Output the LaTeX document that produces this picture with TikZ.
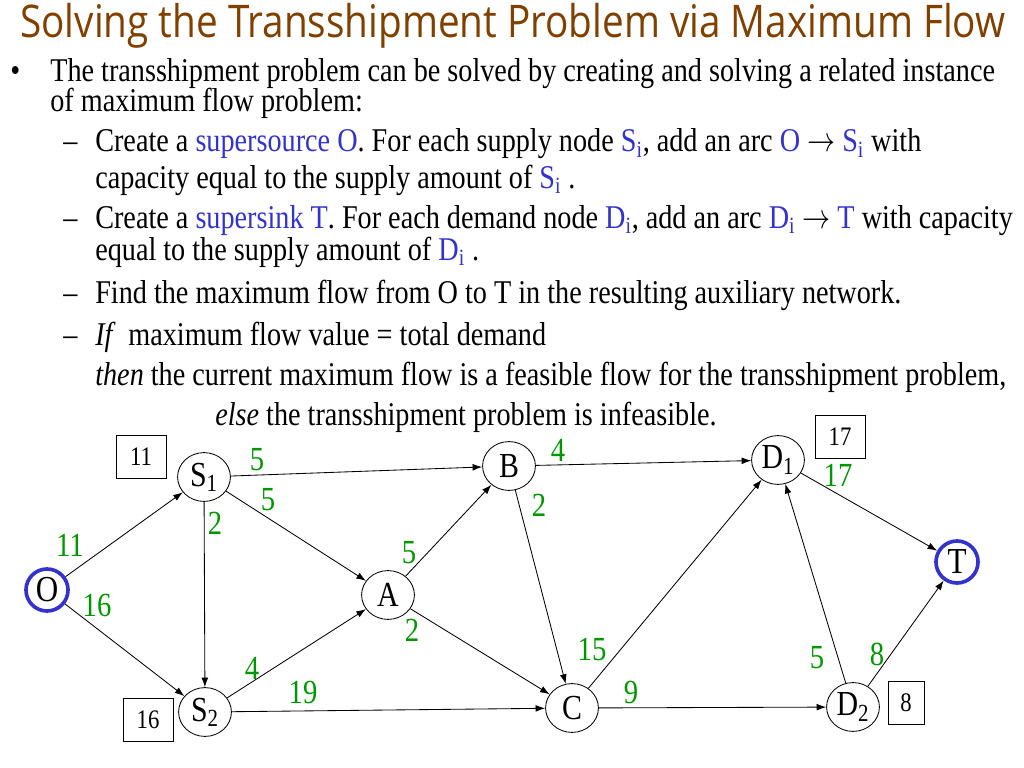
\documentclass[tikz,border=0pt]{standalone}
\usepackage{fontspec}
\setmainfont{Liberation Serif}[FakeStretch=0.85]
\newfontfamily\titlefont{Open Sans}[FakeStretch=0.86]
\usepackage{xcolor}
\usetikzlibrary{arrows.meta, shapes.geometric}
\definecolor{titlebrown}{RGB}{128,64,0}
\definecolor{hiblue}{RGB}{51,51,204}
\definecolor{flowgreen}{RGB}{0,150,0}
\newcommand{\hb}[1]{\textcolor{hiblue}{#1}}
\newcommand{\arcto}{\scalebox{0.8}[1]{$\rightarrow$}}
\tikzset{
  vertex/.style={ellipse, draw, line width=0.6pt, minimum width=1.32cm, minimum height=1.22cm, inner sep=0pt, font=\fontsize{25}{25}\selectfont},
  endvertex/.style={circle, draw=hiblue, line width=2.6pt, minimum size=1.05cm, inner sep=0pt, font=\fontsize{26}{26}\selectfont},
  capbox/.style={rectangle, draw, line width=0.6pt, minimum width=1.25cm, minimum height=1.07cm, inner sep=0pt, font=\fontsize{19}{19}\selectfont},
  flow/.style={text=flowgreen, inner sep=0pt, font=\fontsize{24}{24}\selectfont},
  txt/.style={anchor=base west, inner sep=0pt, font=\fontsize{23.6}{28}\selectfont},
  arc/.style={-{Latex[length=2.4mm, width=1.7mm]}, line width=0.6pt},
}

\begin{document}
\begin{tikzpicture}[x=0.025cm, y=-0.025cm]
  \useasboundingbox (0,0) rectangle (1024,768);

  % Title
  \node[anchor=base west, inner sep=0pt, text=titlebrown, font=\titlefont\fontsize{32}{32}\selectfont] (title) at (20,38) {Solving the Transshipment Problem via Maximum Flow};

  % Bullet text
  \node[txt] (dot) at (10,82) {\textbullet};
  \node[txt] (l1) at (50,82) {The transshipment problem can be solved by creating and solving a related instance};
  \node[txt] (l2) at (50,112) {of maximum flow problem:};
  \foreach \y/\n in {152/d1, 228/d2, 303/d3, 345/d4}
    \node[txt] (\n) at (63,\y) {--};
  \node[txt] (l3) at (95,152) {Create a \hb{supersource O}. For each supply node \hb{S\textsubscript{i}}, add an arc \hb{O} \arcto{} \hb{S\textsubscript{i}} with};
  \node[txt] (l4) at (95,188) {capacity equal to the supply amount of \hb{S\textsubscript{i}} .};
  \node[txt] (l5) at (95,228) {Create a \hb{supersink T}. For each demand node \hb{D\textsubscript{i}}, add an arc \hb{D\textsubscript{i}} \arcto{} \hb{T} with capacity};
  \node[txt] (l6) at (95,260) {equal to the supply amount of \hb{D\textsubscript{i}} .};
  \node[txt] (l7) at (95,303) {Find the maximum flow from O to T in the resulting auxiliary network.};
  \node[txt] (l8) at (95,345) {\textit{If}\, maximum flow value = total demand};
  \node[txt] (l9) at (95,385) {\textit{then} the current maximum flow is a feasible flow for the transshipment problem,};
  \node[txt] (l10) at (215,425) {\textit{else} the transshipment problem is infeasible.};

  % Network nodes
  \node[endvertex] (O) at (47,590) {O};
  \node[vertex] (S1) at (204,477) {S\textsubscript{1}};
  \node[vertex] (S2) at (205,712) {S\textsubscript{2}};
  \node[vertex] (A) at (388,595) {A};
  \node[vertex] (B) at (509,466) {B};
  \node[vertex] (C) at (572,708) {C};
  \node[vertex] (D1) at (778,460) {D\textsubscript{1}};
  \node[vertex] (D2) at (853,707) {D\textsubscript{2}};
  \node[endvertex] (T) at (957,562) {T};

  % Supply and demand boxes
  \node[capbox] (bS1) at (141,457) {11};
  \node[capbox] (bS2) at (148,720) {16};
  \node[capbox] (bD1) at (840,437) {17};
  \node[capbox, minimum width=0.9cm] (bD2) at (906,703) {8};

  % Arcs
  \foreach \a/\b in {O/S1, O/S2, S1/B, S1/A, S1/S2, S2/A, S2/C, A/B, A/C, B/D1, B/C, C/D1, C/D2, D2/D1, D1/T, D2/T}
    \draw[arc] (\a) -- (\b);

  % Capacities
  \foreach \n/\x/\y/\t in {fOS1/70/545/11, fOS2/97/605/16, fS1B/257/460/5, fS1A/268/500/5,
      fS1S2/215/523/2, fAB/409/553/5, fAC/412/630/2, fS2A/252/668/4, fS2C/303/692/19,
      fBD1/558/450/4, fBC/539/505/2, fCD1/592/650/15, fCD2/631/692/9, fD1T/838/475/17,
      fD2D1/817/658/5, fD2T/877/654/8}
    \node[flow] (\n) at (\x,\y) {\t};
\end{tikzpicture}
\end{document}
